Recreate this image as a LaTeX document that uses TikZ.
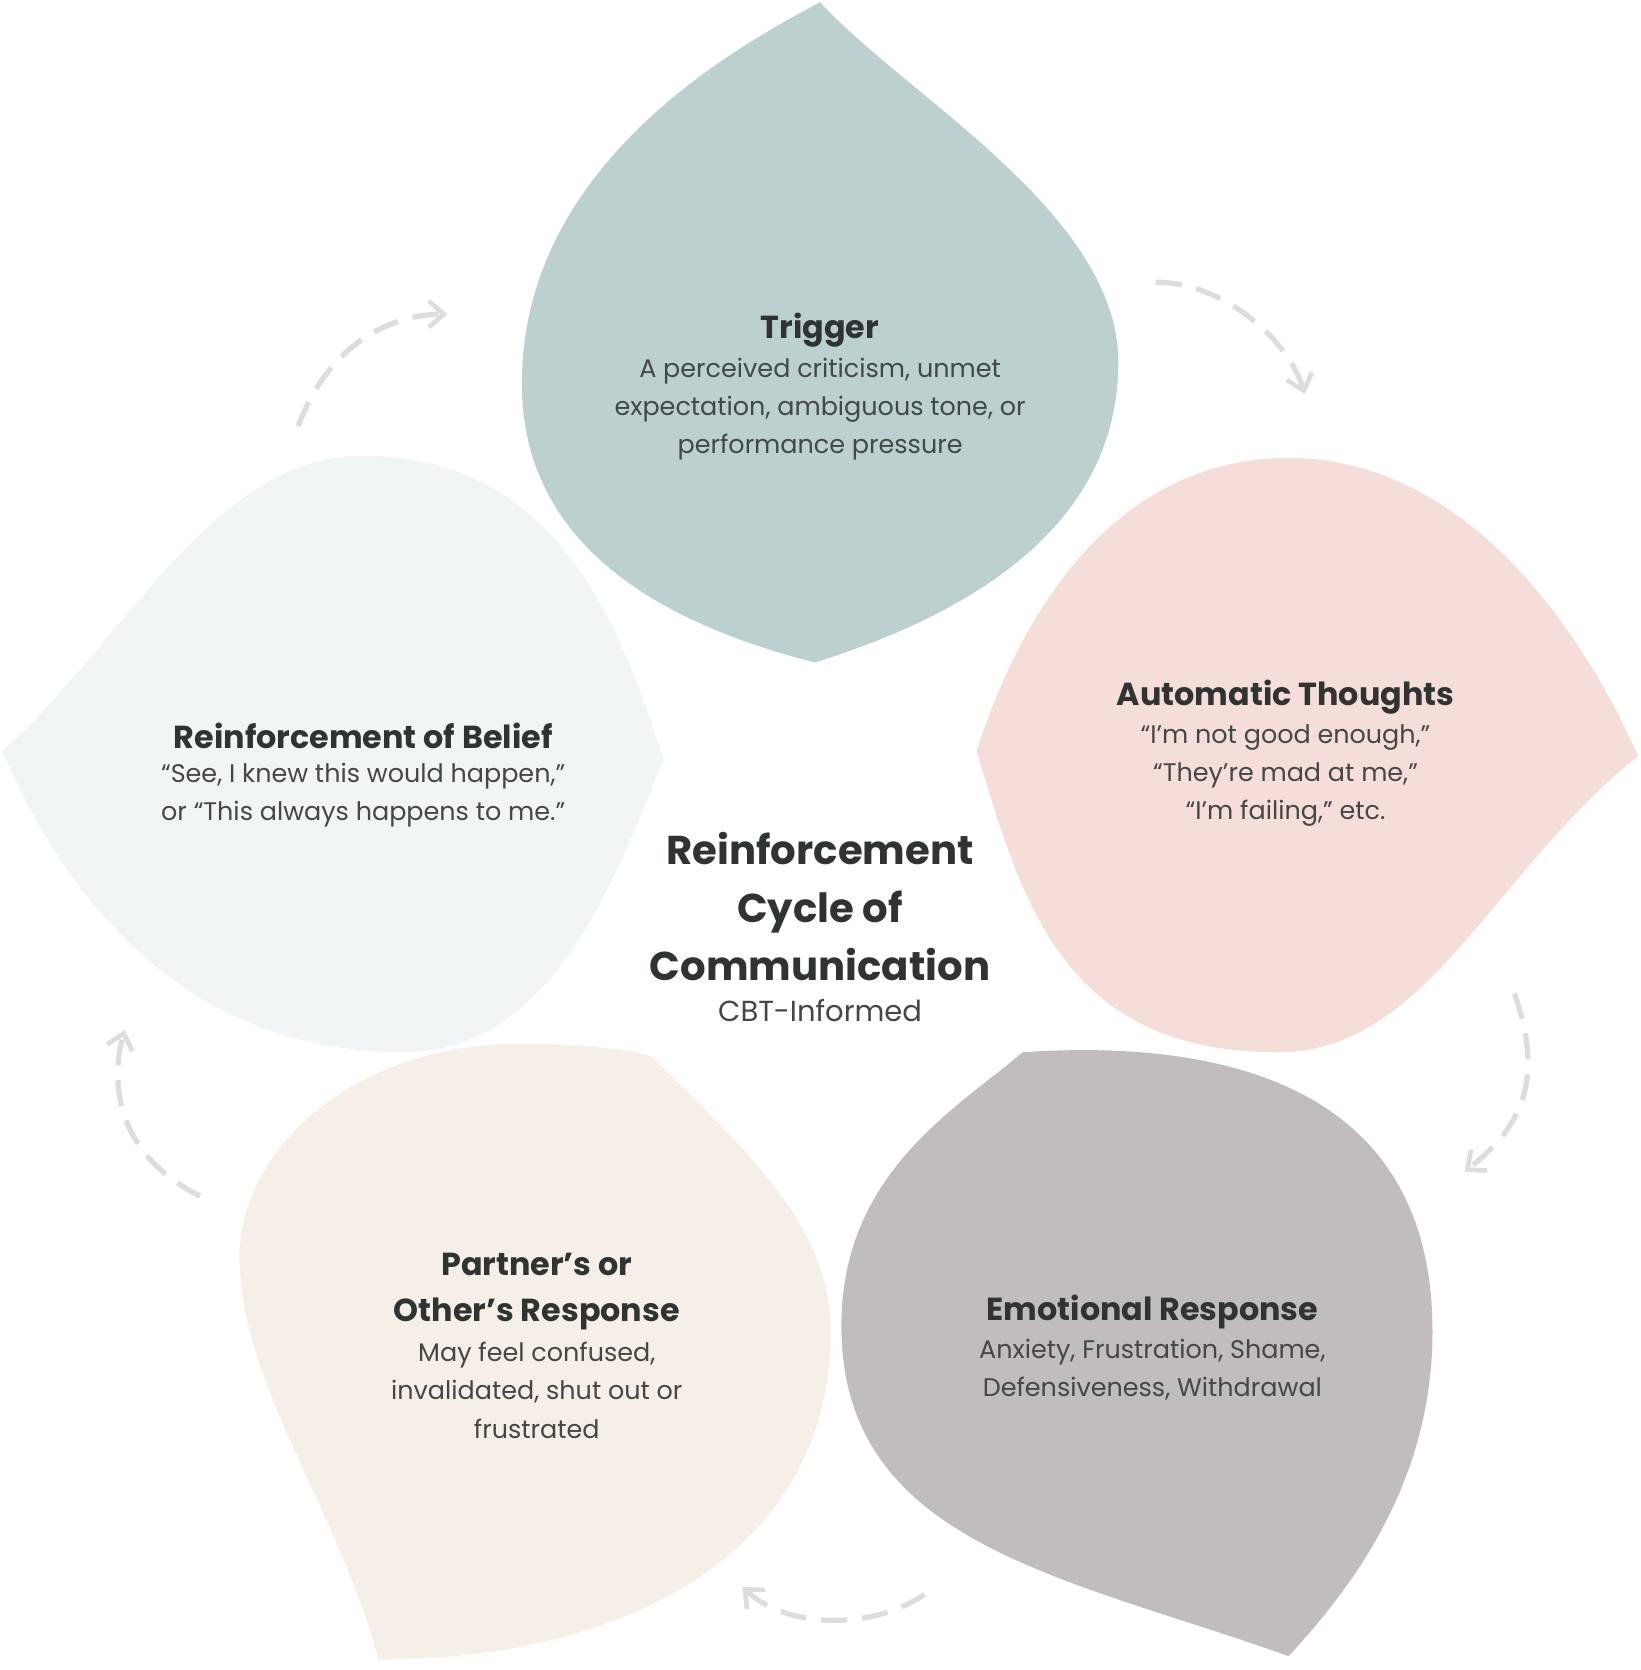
\documentclass[tikz,border=0pt]{standalone}
\usepackage{fontspec}
\setmainfont{Poppins}
\usetikzlibrary{arrows.meta}
\definecolor{cteal}{HTML}{BCD1CF}
\definecolor{cpink}{HTML}{F5DEDA}
\definecolor{cpale}{HTML}{F1F5F6}
\definecolor{cgrey}{HTML}{C0BDBC}
\definecolor{ccream}{HTML}{F5EFE8}
\definecolor{cdark}{HTML}{2F3433}
\definecolor{cbody}{HTML}{444746}
\definecolor{carrow}{HTML}{DDDDDD}
\tikzset{
  ttl/.style={font=\fontsize{17}{22}\selectfont\bfseries, text=cdark, align=center, inner sep=0pt},
  bdy/.style={font=\fontsize{13.6}{20.4}\selectfont, text=cbody, align=center, inner sep=0pt, anchor=north},
  cyc/.style={draw=carrow, line width=2.8pt, dash pattern=on 14pt off 8pt, -{Straight Barb[length=8pt,width=14pt,line width=2.5pt]}},
}
\begin{document}
\begin{tikzpicture}[x=0.02cm,y=-0.02cm]
\useasboundingbox (0,0) rectangle (1540,1568);
% petals
\fill[cteal] (770,2) .. controls (850,90) and (1050,200) .. (1050,340) .. controls (1050,500) and (900,580) .. (765,622) .. controls (600,580) and (490,500) .. (490,360) .. controls (490,150) and (700,40) .. (770,2);
\fill[cpink] (917,705) .. controls (960,570) and (1050,430) .. (1210,430) .. controls (1380,430) and (1490,600) .. (1538,710) .. controls (1400,820) and (1340,988) .. (1200,988) .. controls (1000,988) and (960,850) .. (917,705);
\fill[cpale] (2,705) .. controls (120,600) and (200,428) .. (340,428) .. controls (520,428) and (580,580) .. (623,712) .. controls (580,820) and (520,988) .. (380,988) .. controls (170,988) and (60,840) .. (2,705);
\fill[cgrey] (960,988) .. controls (1150,975) and (1345,1020) .. (1345,1250) .. controls (1345,1400) and (1260,1500) .. (1210,1555) .. controls (1000,1480) and (790,1450) .. (790,1245) .. controls (790,1100) and (900,1040) .. (960,988);
\fill[ccream] (612,992) .. controls (700,1080) and (780,1150) .. (780,1250) .. controls (780,1450) and (600,1558) .. (355,1558) .. controls (320,1420) and (225,1300) .. (225,1180) .. controls (225,1080) and (330,980) .. (490,980) .. controls (540,980) and (590,985) .. (612,992);
% texts
\node[ttl] (t1) at (770,310) {Trigger};
\node[bdy] (b1) at (770,336) {A perceived criticism, unmet\\expectation, ambiguous tone, or\\performance pressure};
\node[ttl] (t2) at (1207,655) {Automatic Thoughts};
\node[bdy] (b2) at (1207,680) {“I’m not good enough,”\\“They’re mad at me,”\\“I’m failing,” etc.};
\node[ttl] (t3) at (1082,1232) {Emotional Response};
\node[bdy] (b3) at (1082,1257) {Anxiety, Frustration, Shame,\\Defensiveness, Withdrawal};
\node[ttl, font=\fontsize{17}{24.5}\selectfont\bfseries] (t4) at (504,1213) {Partner’s or\\Other’s Response};
\node[bdy] (b4) at (504,1260) {May feel confused,\\invalidated, shut out or\\frustrated};
\node[ttl] (t5) at (341,691) {Reinforcement of Belief};
\node[bdy] (b5) at (341,716) {“See, I knew this would happen,”\\or “This always happens to me.”};
\node[ttl, font=\fontsize{21.5}{31}\selectfont\bfseries] (c) at (770,851) {Reinforcement\\Cycle of\\Communication};
\node[bdy, font=\fontsize{15.5}{20}\selectfont] (cs) at (770,938) {CBT-Informed};
% arrows
\coordinate (a1s) at (280,400); \coordinate (a1e) at (420,295);
\coordinate (a2s) at (1085,265); \coordinate (a2e) at (1225,370);
\coordinate (a3s) at (1422,933); \coordinate (a3e) at (1375,1100);
\coordinate (a4s) at (868,1497); \coordinate (a4e) at (697,1490);
\coordinate (a5s) at (188,1123); \coordinate (a5e) at (117,967);
\draw[cyc] (a1s) .. controls (310,320) and (370,295) .. (a1e);
\draw[cyc] (a2s) .. controls (1150,265) and (1210,320) .. (a2e);
\draw[cyc] (a3s) .. controls (1445,1000) and (1440,1050) .. (a3e);
\draw[cyc] (a4s) .. controls (820,1530) and (740,1530) .. (a4e);
\draw[cyc] (a5s) .. controls (120,1090) and (100,1030) .. (a5e);
\end{tikzpicture}
\end{document}
